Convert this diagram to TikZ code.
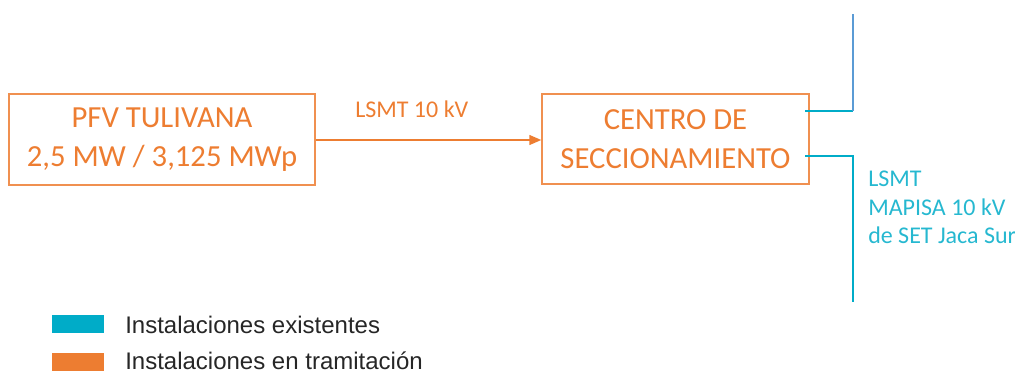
\documentclass[tikz,border=0pt]{standalone}
\usepackage{fontspec}
\setmainfont{Carlito}
\newfontfamily\arialfont{Liberation Sans}
\usetikzlibrary{positioning,arrows.meta}
\definecolor{naranja}{RGB}{237,125,49}
\definecolor{cian}{RGB}{0,172,200}
\definecolor{azul}{RGB}{91,155,213}
\tikzset{
  caja/.style={draw=naranja!85,line width=1.1pt,text=naranja,align=center,
    font=\fontsize{23}{29}\selectfont,inner sep=0pt},
  linea/.style={draw=cian,line width=1.1pt},
  etiq/.style={inner sep=0pt,font=\fontsize{18}{21.5}\selectfont},
  leyenda/.style={inner sep=0pt,font=\arialfont\fontsize{18}{20}\selectfont,text=black!85}
}
\begin{document}
\begin{tikzpicture}[x=0.75pt,y=0.75pt,yscale=-1,xscale=1]
\useasboundingbox (0,0) rectangle (1015,371);

%Shape: Rectangle [id:pfv]
\node [caja,minimum width=229.5pt,minimum height=68.25pt] (pfv) at (162,139.5) {PFV TULIVANA\\2,5 MW / 3,125 MWp};
%Shape: Rectangle [id:cs]
\node [caja,minimum width=200.25pt,minimum height=67.5pt] (cs) at (675.5,139) {CENTRO DE\\SECCIONAMIENTO};

% Arrow
\draw [draw=naranja,line width=1.1pt,-{Triangle[length=9pt,width=7.5pt]}] (pfv.east |- 0,140) -- (cs.west |- 0,140);
% Text Node
\draw (355,117) node [anchor=base west][etiq][text=naranja] (lsmt) {LSMT 10 kV};

% Lines to SET
\coordinate (a1) at (805,111);
\coordinate (a2) at (853,111);
\coordinate (a3) at (853,14);
\coordinate (b1) at (805,156);
\coordinate (b2) at (853,156);
\coordinate (b3) at (853,302);
\draw [linea] (a1) -- (a2);
\draw [draw=azul,line width=1.1pt] (a2) -- (a3);
\draw [linea] (b1) -- (b2) -- (b3);
% Text Node
\draw (868,170.5) node [anchor=north west][etiq][text=cian!85!white,align=left] (mapisa) {LSMT\\MAPISA 10 kV\\de SET Jaca Sur};

%Shape: Rectangle [id:leyenda]
\draw [fill=cian,draw=none] (52,315) rectangle (104,333);
\draw [fill=naranja,draw=none] (52,353) rectangle (104,371);
% Text Node
\draw (125,333) node [anchor=base west][leyenda] (ley1) {Instalaciones existentes};
\draw (125,369) node [anchor=base west][leyenda] (ley2) {Instalaciones en tramitación};

\end{tikzpicture}
\end{document}
